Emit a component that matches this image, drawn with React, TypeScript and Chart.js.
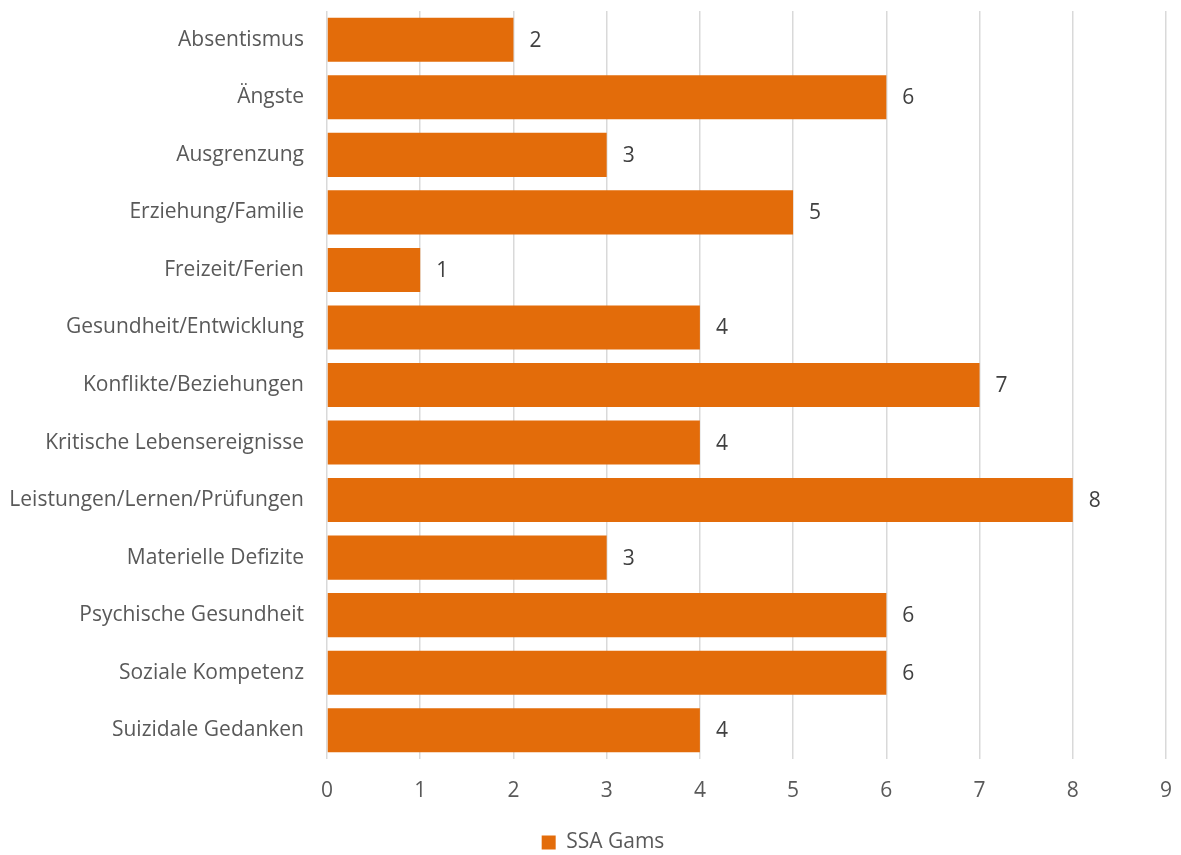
import React, { useEffect, useRef } from "react";
import { Chart, registerables } from "chart.js";

Chart.register(...registerables);

const categories = [
  "Absentismus",
  "Ängste",
  "Ausgrenzung",
  "Erziehung/Familie",
  "Freizeit/Ferien",
  "Gesundheit/Entwicklung",
  "Konflikte/Beziehungen",
  "Kritische Lebensereignisse",
  "Leistungen/Lernen/Prüfungen",
  "Materielle Defizite",
  "Psychische Gesundheit",
  "Soziale Kompetenz",
  "Suizidale Gedanken",
];
const values = [2, 6, 3, 5, 1, 4, 7, 4, 8, 3, 6, 6, 4];
const seriesName = "SSA Gams";
const xMin = 0;
const xMax = 9;

const FONT = "'Open Sans', Lato, sans-serif";
const BAR_COLOR = "#E36C0A";

const valueLabels = {
  id: "valueLabels",
  afterDatasetsDraw(chart: any) {
    const ctx = chart.ctx;
    ctx.save();
    ctx.font = `21px ${FONT}`;
    ctx.fillStyle = "#404040";
    ctx.textAlign = "left";
    ctx.textBaseline = "middle";
    const meta = chart.getDatasetMeta(0);
    meta.data.forEach((bar: any, i: number) => {
      ctx.fillText(String(chart.data.datasets[0].data[i]), bar.x + 16, bar.y + 1);
    });
    ctx.restore();
  },
};

const legendShift = {
  id: "legendShift",
  afterLayout(chart: any) {
    const lg = chart.legend;
    if (!lg) return;
    lg.left = 40;
    lg.top += 8;
    lg.bottom += 8;
  },
};

export default function App() {
  const ref = useRef<HTMLCanvasElement | null>(null);
  useEffect(() => {
    document.body.style.margin = "0";
    const chart = new Chart(ref.current!, {
      type: "bar",
      data: {
        labels: categories,
        datasets: [
          {
            label: seriesName,
            data: values,
            backgroundColor: BAR_COLOR,
            borderWidth: 0,
            barPercentage: 0.766,
            categoryPercentage: 1,
          },
        ],
      },
      options: {
        indexAxis: "y",
        animation: false,
        responsive: false,
        maintainAspectRatio: false,
        layout: { padding: { left: 0, right: 15, top: 11, bottom: 0 } },
        plugins: {
          legend: {
            display: true,
            position: "bottom",
            labels: {
              boxWidth: 14,
              boxHeight: 14,
              color: "#595959",
              font: { family: FONT, size: 21 },
              padding: 3,
            },
          },
          tooltip: { enabled: false },
        },
        scales: {
          x: {
            min: xMin,
            max: xMax,
            ticks: {
              stepSize: 1,
              color: "#595959",
              font: { family: FONT, size: 21 },
              padding: 19,
            },
            grid: { color: "#D9D9D9", lineWidth: 1.5, drawTicks: false },
            border: { display: false },
            afterFit(scale: any) {
              scale.height = 62;
              scale.paddingLeft = 0;
              scale.paddingRight = 0;
            },
          },
          y: {
            ticks: {
              color: "#595959",
              font: { family: FONT, size: 21 },
              padding: 23,
            },
            grid: { display: false, drawTicks: false },
            border: { display: false },
            afterFit(scale: any) {
              scale.width = 327;
              scale.paddingTop = 0;
              scale.paddingBottom = 0;
            },
          },
        },
      },
      plugins: [valueLabels, legendShift],
    });
    return () => chart.destroy();
  }, []);
  return (
    <div style={{ width: 1181, height: 855 }}>
      <canvas ref={ref} width={1181} height={855} />
    </div>
  );
}
